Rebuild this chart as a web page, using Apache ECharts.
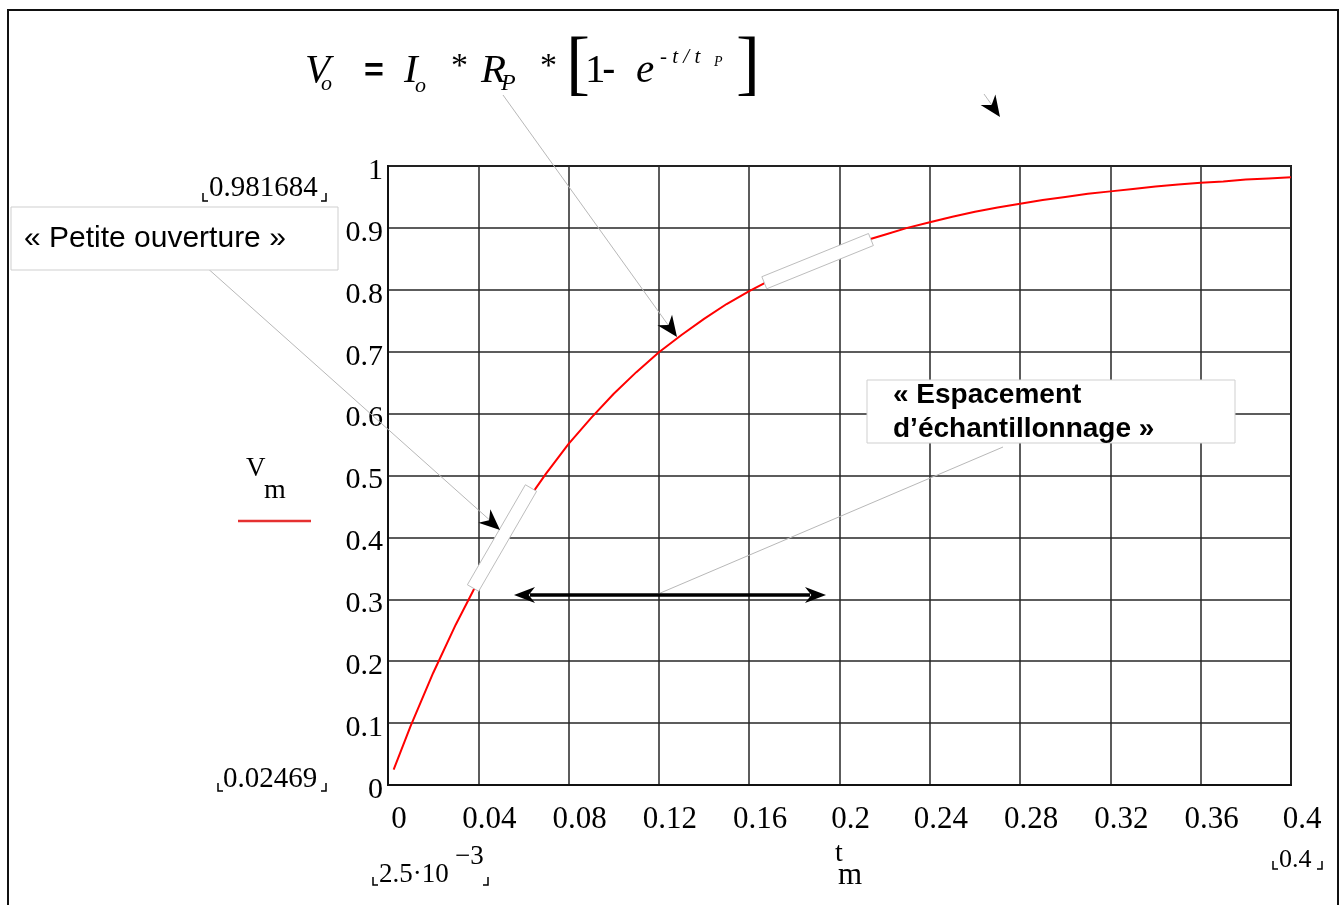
<!DOCTYPE html>
<html>
<head>
<meta charset="utf-8">
<script src="https://cdn.jsdelivr.net/npm/echarts@6/dist/echarts.min.js"></script>
<style>
html,body{margin:0;padding:0;background:#fff;}
#chart{width:1343px;height:905px;}
</style>
</head>
<body>
<div id="chart"></div>
<script>
// ---- data ----
const tValues = [0.0025, 0.01, 0.02, 0.03, 0.04, 0.05, 0.06, 0.07, 0.08, 0.09, 0.10,
  0.11, 0.12, 0.13, 0.14, 0.15, 0.16, 0.17, 0.18, 0.19, 0.20,
  0.21, 0.22, 0.23, 0.24, 0.25, 0.26, 0.27, 0.28, 0.29, 0.30,
  0.31, 0.32, 0.33, 0.34, 0.35, 0.36, 0.37, 0.38, 0.39, 0.40];
const vmValues = [0.02469, 0.095, 0.181, 0.259, 0.330, 0.394, 0.451, 0.503, 0.551, 0.593, 0.632,
  0.667, 0.699, 0.727, 0.753, 0.777, 0.798, 0.817, 0.835, 0.850, 0.865,
  0.878, 0.889, 0.900, 0.909, 0.918, 0.926, 0.933, 0.939, 0.945, 0.950,
  0.955, 0.959, 0.963, 0.967, 0.970, 0.973, 0.975, 0.978, 0.980, 0.981684];
const xAxisRange = {min: 0, max: 0.4, interval: 0.04};
const yAxisRange = {min: 0, max: 1, interval: 0.1};
const yRangeLabels = ['0.981684', '0.02469'];
const xRangeLabels = ['2.5·10', '−3', '0.4'];
const noteSmallAperture = '« Petite ouverture »';
const noteSpacing = ['« Espacement', 'd’échantillonnage »'];
// segments of the curve covered by the white "window" bars (t, V)
const window1 = [[0.0381, 0.321], [0.0629, 0.477]];
const window2 = [[0.1675, 0.8126], [0.2131, 0.880]];

const SERIF = '"Liberation Serif", "Times New Roman", serif';
const SANS = '"Liberation Sans", Arial, sans-serif';

const chart = echarts.init(document.getElementById('chart'), null, {renderer: 'canvas'});
const seriesData = tValues.map((t, i) => [t, vmValues[i]]);

chart.setOption({
  animation: false,
  backgroundColor: '#ffffff',
  grid: {left: 388, top: 166, width: 903, height: 619, show: true, borderColor: '#1a1a1a', borderWidth: 2, backgroundColor: 'transparent'},
  xAxis: {
    type: 'value', min: xAxisRange.min, max: xAxisRange.max, interval: xAxisRange.interval,
    axisLine: {show: true, lineStyle: {color: '#111', width: 2}},
    axisTick: {show: false},
    splitLine: {show: true, lineStyle: {color: '#262626', width: 1.5}},
    axisLabel: {color: '#000', fontFamily: SERIF, fontSize: 31, margin: 19, padding: [0, 0, 0, 22],
      showMinLabel: true, showMaxLabel: true}
  },
  yAxis: {
    type: 'value', min: yAxisRange.min, max: yAxisRange.max, interval: yAxisRange.interval,
    axisLine: {show: true, lineStyle: {color: '#111', width: 2}},
    axisTick: {show: false},
    splitLine: {show: true, lineStyle: {color: '#262626', width: 1.5}},
    axisLabel: {color: '#000', fontFamily: SERIF, fontSize: 30, margin: 5,
      verticalAlign: 'top', lineHeight: 10,
      showMinLabel: true, showMaxLabel: true}
  },
  series: [{
    type: 'line', data: seriesData, symbol: 'none', smooth: false,
    lineStyle: {color: '#ff0000', width: 2}, z: 3
  }]
});

function arrowHead(tipX, tipY, fromX, fromY, len, half) {
  const dx = tipX - fromX, dy = tipY - fromY;
  const d = Math.sqrt(dx * dx + dy * dy);
  const ux = dx / d, uy = dy / d;
  const px = -uy, py = ux;
  const bx = tipX - ux * len, by = tipY - uy * len;
  const nx = tipX - ux * len * 0.7, ny = tipY - uy * len * 0.7;
  return {type: 'polygon', z: 110, shape: {points: [[tipX, tipY], [bx + px * half, by + py * half], [nx, ny], [bx - px * half, by - py * half]]},
    style: {fill: '#000'}};
}
function line(x1, y1, x2, y2, color, w) {
  return {type: 'line', z: 105, shape: {x1, y1, x2, y2}, style: {stroke: color, lineWidth: w}};
}
function txt(x, y, text, font, align, extra) {
  return Object.assign({type: 'text', z: 120, x, y, style: {text, font, fill: '#000', align: align || 'left', verticalAlign: 'middle'}}, extra || {});
}
function windowBar(seg, half) {
  const a = chart.convertToPixel({gridIndex: 0}, seg[0]);
  const b = chart.convertToPixel({gridIndex: 0}, seg[1]);
  const dx = b[0] - a[0], dy = b[1] - a[1];
  const d = Math.sqrt(dx * dx + dy * dy);
  const ux = dx / d, uy = dy / d, px = -uy * half, py = ux * half;
  const ex = ux * 2, ey = uy * 2;
  return {type: 'polygon', z: 100, shape: {points: [
    [a[0] - ex + px, a[1] - ey + py], [b[0] + ex + px, b[1] + ey + py],
    [b[0] + ex - px, b[1] + ey - py], [a[0] - ex - px, a[1] - ey - py]]},
    style: {fill: '#ffffff', stroke: '#bdbdbd', lineWidth: 1}};
}
function brackets(xl, xr, yb, h) {
  return [
    {type: 'polyline', z: 120, shape: {points: [[xl, yb - h], [xl, yb], [xl + 5, yb]]}, style: {stroke: '#000', lineWidth: 1.5, fill: null}},
    {type: 'polyline', z: 120, shape: {points: [[xr - 5, yb], [xr, yb], [xr, yb - h]]}, style: {stroke: '#000', lineWidth: 1.5, fill: null}}
  ];
}

const g = [];
// outer frame
g.push({type: 'rect', z: 90, shape: {x: 8, y: 10, width: 1330, height: 905}, style: {fill: null, stroke: '#111', lineWidth: 2}});

// formula
const fI = 'italic 41px ' + SERIF;
g.push(txt(305, 71, 'V', fI));
g.push(txt(321, 84, 'o', 'italic 22px ' + SERIF));
g.push(txt(364, 72, '=', 'bold 34px ' + SANS));
g.push(txt(404, 71, 'I', fI));
g.push(txt(415, 86, 'o', 'italic 22px ' + SERIF));
g.push(txt(451, 67, '*', '34px ' + SERIF));
g.push(txt(481, 71, 'R', fI));
g.push(txt(501, 84, 'P', 'italic 24px ' + SERIF));
g.push(txt(540, 67, '*', '34px ' + SERIF));
g.push(txt(566, 67, '[', '72px ' + SERIF));
g.push(txt(585, 71, '1', '41px ' + SERIF));
g.push(txt(602, 71, '-', '41px ' + SANS));
g.push(txt(636, 71, 'e', fI));
g.push(txt(660, 57, '- t / t', 'italic 21px ' + SERIF));
g.push(txt(714, 62, 'P', 'italic 14px ' + SERIF));
g.push(txt(736, 67, ']', '72px ' + SERIF));

// pointer from formula
g.push(line(503, 95, 671, 329, '#b8b8b8', 1));
g.push(arrowHead(677, 337, 503, 95, 21, 9));
// small arrow at top right
g.push(line(984, 94, 994, 108, '#b8b8b8', 1));
g.push(arrowHead(1000, 117, 984, 94, 21, 9));

// "Petite ouverture" box and pointer
g.push(line(205, 266, 493, 523, '#b8b8b8', 1));
g.push(arrowHead(500, 530, 205, 266, 21, 9));
g.push({type: 'rect', z: 108, shape: {x: 11, y: 207, width: 327, height: 63}, style: {fill: '#fff', stroke: '#cfcfcf', lineWidth: 1}});
g.push(txt(24, 239, noteSmallAperture, '30px ' + SANS));

// white windows over the curve
g.push(windowBar(window1, 6.5));
g.push(windowBar(window2, 6.5));

// spacing double arrow
g.push(line(1003, 447, 658, 594, '#b8b8b8', 1));
g.push(line(530, 595, 810, 595, '#000', 3.5));
g.push(arrowHead(514, 595, 600, 595, 21, 8));
g.push(arrowHead(826, 595, 700, 595, 21, 8));
g.push({type: 'rect', z: 108, shape: {x: 867, y: 380, width: 368, height: 63}, style: {fill: '#fff', stroke: '#cfcfcf', lineWidth: 1}});
g.push(txt(893, 395, noteSpacing[0], 'bold 28px ' + SANS));
g.push(txt(893, 429, noteSpacing[1], 'bold 28px ' + SANS));

// y name with legend line
g.push(txt(246, 469, 'V', '27px ' + SERIF));
g.push(txt(264, 491, 'm', '28px ' + SERIF));
g.push({type: 'line', z: 105, shape: {x1: 238, y1: 521, x2: 311, y2: 521}, style: {stroke: '#e53030', lineWidth: 2.5}});

// x name
g.push(txt(835, 854, 't', '28px ' + SERIF));
g.push(txt(838, 876, 'm', '31px ' + SERIF));

// range labels
g.push(txt(209, 188, yRangeLabels[0], '29px ' + SERIF));
g.push(...brackets(203, 326, 201, 8));
g.push(txt(223, 779, yRangeLabels[1], '29px ' + SERIF));
g.push(...brackets(218, 326, 791, 8));
g.push(txt(379, 875, xRangeLabels[0], '27px ' + SERIF));
g.push(txt(455, 857, xRangeLabels[1], '27px ' + SERIF));
g.push(...brackets(373, 488, 885, 8));
g.push(txt(1279, 860, xRangeLabels[2], '26px ' + SERIF));
g.push(...brackets(1273, 1322, 869, 8));

chart.setOption({graphic: {elements: g}});
</script>
</body>
</html>
